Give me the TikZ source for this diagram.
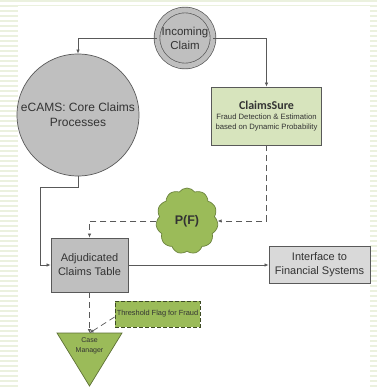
\documentclass[tikz,border=0pt]{standalone}
\usepackage{fontspec}
\setmainfont{Liberation Sans}
\newfontfamily\calibrifont{Carlito}
\usetikzlibrary{arrows.meta,shapes.symbols}

\definecolor{boxgray}{HTML}{BFBFBF}
\definecolor{ifsgray}{HTML}{D9D9D9}
\definecolor{palegreen}{HTML}{D7E4BD}
\definecolor{olivegreen}{HTML}{9BBB59}
\definecolor{linegray}{HTML}{595959}
\definecolor{stripe}{HTML}{EBF1DE}

\begin{document}
\begin{tikzpicture}
		[x=1pt,y=-1pt,>={Latex[length=4pt,width=3.5pt]},line width=0.7pt,
		 every node/.style={text=black!80,align=center,inner sep=1pt},
		 flow/.style={draw=linegray,->},
		 dflow/.style={draw=linegray,->,dash pattern=on 6pt off 4pt},
		 box/.style={rectangle,draw=linegray,line width=0.9pt}]
		\useasboundingbox (0,0) rectangle (377,387);
		% striped border
		\foreach \y in {1,6,...,386}
			\draw[stripe,line width=2.5pt] (0,\y) -- (377,\y);
		\fill[white] (18,6) rectangle (370,387);

		\node[circle,draw=linegray,fill=boxgray,double=boxgray,double distance=5pt,
			inner sep=0pt,minimum size=56pt,font=\fontsize{11.5}{14}\selectfont] (inc) at (185,38) {Incoming\\Claim};
		\node[circle,draw=linegray,fill=boxgray,minimum size=122pt,
			font=\fontsize{12}{15}\selectfont] (ecams) at (78,115) {eCAMS: Core Claims\\Processes};
		\node[box,fill=palegreen,minimum width=110pt,minimum height=58pt,
			font=\fontsize{7.7}{9.5}\selectfont] (cs) at (266.5,116)
			{{\calibrifont\bfseries\fontsize{12}{14}\selectfont ClaimsSure}\\[1pt]
			 Fraud Detection \& Estimation\\based on Dynamic Probability};
		\node[cloud,cloud puffs=11,cloud puff arc=110,aspect=0.9,draw=olivegreen!70!black,
			fill=olivegreen,minimum width=62pt,minimum height=66pt,
			font=\bfseries\fontsize{12.5}{14}\selectfont] (pf) at (187,221) {P(F)};
		\node[box,fill=boxgray,minimum width=77pt,minimum height=54pt,
			font=\fontsize{11}{14}\selectfont] (adj) at (89.5,265) {Adjudicated\\Claims Table};
		\node[box,fill=ifsgray,minimum width=101pt,minimum height=37pt,
			font=\fontsize{11}{14}\selectfont] (ifs) at (319.5,265) {Interface to\\Financial Systems};
		\node[box,draw=olivegreen!40!black,dash pattern=on 4pt off 2pt,fill=olivegreen,
			minimum width=85pt,minimum height=26pt,
			font=\fontsize{7.4}{9}\selectfont] (thr) at (157.5,314) {Threshold Flag for Fraud};

		% case manager triangle
		\filldraw[draw=olivegreen!60!black,fill=olivegreen] (57,333) -- (122,333) -- (89.5,386) -- cycle;
		\coordinate (cmtop) at (89.5,333);
		\node[font=\fontsize{7}{9.5}\selectfont] (cm) at (89.5,346) {Case\\Manager};

		\draw[flow] (inc.west) -| (ecams.north);
		\draw[flow] (inc.east) -| (cs.north);
		\draw[dflow] (cs.south) |- (pf.east);
		\draw[dflow] (pf.west) -| (adj.north);
		\draw[flow] (ecams.south) -- ++(0,11) -| ([xshift=-10pt]adj.west) -- (adj.west);
		\draw[flow] (adj.east) -- (ifs.west);
		\draw[dflow] (adj.south) -- (cmtop);
		\draw[dflow] ([yshift=-3pt]thr.west) -- (cmtop);

	\end{tikzpicture}
\end{document}
